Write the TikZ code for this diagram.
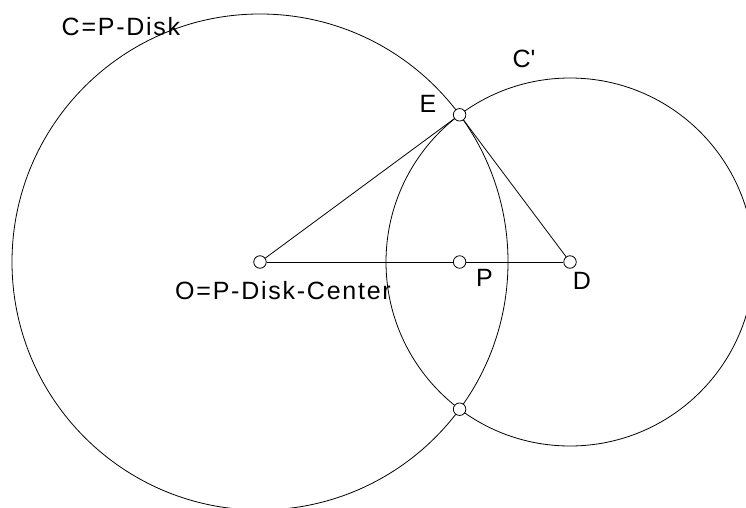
\documentclass[tikz,border=0pt]{standalone}
\usepackage{fontspec}
\setmainfont[LetterSpace=7]{Liberation Sans}
\usetikzlibrary{calc}

\begin{document}
\begin{tikzpicture}[x=1pt,y=-1pt,line width=.8pt,
    pt/.style={draw,fill=white,circle,inner sep=0pt,minimum size=12.5pt},
    lbl/.style={inner sep=0pt,font=\fontsize{25}{30}\selectfont}]
  \useasboundingbox (0,0) rectangle (746,508);

  % the disk C and the circle C'
  \draw (260,262) circle[radius=248];
  \draw (570,262) circle[radius=184];

  \node[pt] (O) at (260,262) {};
  \node[pt] (P) at (459.6,262) {};
  \node[pt] (D) at (570,262) {};
  \node[pt] (E) at (459.6,114.8) {};
  \node[pt] (F) at (459.6,409.2) {};

  \draw (O) -- (E);
  \draw (E) -- (D);
  \draw (O) -- (P);
  \draw (P) -- (D);

  \node[lbl] (Clab) at (121,27) {C=P-Disk};
  \node[lbl] (C2lab) at (524,59) {C\textquotesingle};
  \node[lbl] (Elab) at (428,104) {E};
  \node[lbl] (Olab) at (283,291) {O=P-Disk-Center};
  \node[lbl] (Plab) at (484.5,278) {P};
  \node[lbl] (Dlab) at (582,281) {D};
\end{tikzpicture}
\end{document}
